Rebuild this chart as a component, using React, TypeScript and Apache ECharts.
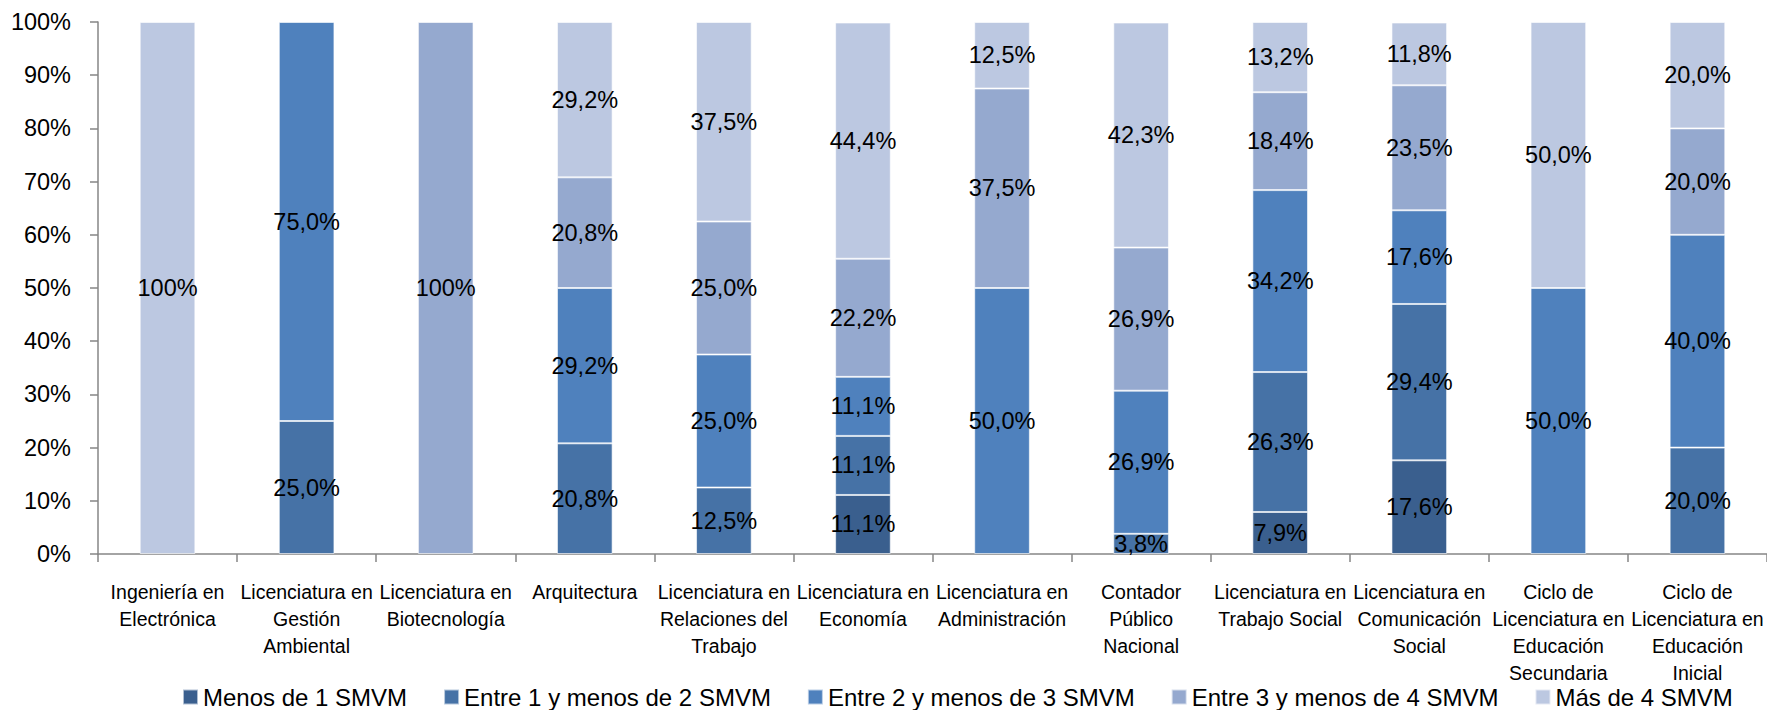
import React, { useEffect, useRef } from "react";
import * as echarts from "echarts";

const categories = [
  "Ingeniería en\nElectrónica",
  "Licenciatura en\nGestión\nAmbiental",
  "Licenciatura en\nBiotecnología",
  "Arquitectura",
  "Licenciatura en\nRelaciones del\nTrabajo",
  "Licenciatura en\nEconomía",
  "Licenciatura en\nAdministración",
  "Contador\nPúblico\nNacional",
  "Licenciatura en\nTrabajo Social",
  "Licenciatura en\nComunicación\nSocial",
  "Ciclo de\nLicenciatura en\nEducación\nSecundaria",
  "Ciclo de\nLicenciatura en\nEducación\nInicial",
];

const menos1 = [0, 0, 0, 0, 0, 11.1, 0, 0, 7.9, 17.6, 0, 0];
const entre12 = [0, 25, 0, 20.8, 12.5, 11.1, 0, 3.8, 26.3, 29.4, 0, 20];
const entre23 = [0, 75, 0, 29.2, 25, 11.1, 50, 26.9, 34.2, 17.6, 50, 40];
const entre34 = [0, 0, 100, 20.8, 25, 22.2, 37.5, 26.9, 18.4, 23.5, 0, 20];
const mas4 = [100, 0, 0, 29.2, 37.5, 44.4, 12.5, 42.3, 13.2, 11.8, 50, 20];

const seriesNames = [
  "Menos de 1 SMVM",
  "Entre 1 y menos de 2 SMVM",
  "Entre 2 y menos de 3 SMVM",
  "Entre 3 y menos de 4 SMVM",
  "Más de 4 SMVM",
];
const seriesValues = [menos1, entre12, entre23, entre34, mas4];
const colors = ["#3A5F8E", "#4672A6", "#4F81BD", "#95A9CF", "#BCC8E1"];

const FONT = "'Liberation Sans', Arial, sans-serif";

export default function App() {
  const ref = useRef<HTMLDivElement>(null);
  useEffect(() => {
    if (!ref.current) return;
    const chart = echarts.init(ref.current, null, { renderer: "svg" });
    const fmt = (p: any) => {
      const v = p.value as number;
      if (v === 100) return "100%";
      return v.toFixed(1).replace(".", ",") + "%";
    };
    chart.setOption({
      animation: false,
      color: colors,
      textStyle: { fontFamily: FONT },
      grid: { left: 98, right: 0, top: 22, bottom: 156, containLabel: false },
      legend: {
        left: 177,
        top: 680,
        itemWidth: 15,
        itemHeight: 15,
        itemGap: 36,
        icon: "rect",
        textStyle: { fontSize: 24, color: "#000", fontFamily: FONT },
        data: seriesNames,
      },
      xAxis: {
        type: "category",
        data: categories,
        axisLine: { lineStyle: { color: "#868686", width: 1.5 } },
        axisTick: { show: true, length: 8, lineStyle: { color: "#868686", width: 1.5 } },
        axisLabel: {
          interval: 0,
          color: "#000",
          fontSize: 19.5,
          lineHeight: 27,
          margin: 24,
          fontFamily: FONT,
        },
      },
      yAxis: {
        type: "value",
        min: 0,
        max: 100,
        interval: 10,
        splitLine: { show: false },
        axisLine: { show: true, lineStyle: { color: "#868686", width: 1.5 } },
        axisTick: { show: true, length: 8, lineStyle: { color: "#868686", width: 1.5 } },
        axisLabel: {
          formatter: "{value}%",
          color: "#000",
          fontSize: 23.5,
          margin: 27,
          fontFamily: FONT,
        },
      },
      series: seriesNames.map((name, i) => ({
        name,
        type: "bar",
        stack: "total",
        barWidth: "40%",
        itemStyle: { color: colors[i], borderColor: "rgba(255,255,255,0.6)", borderWidth: 1 },
        label: {
          show: true,
          position: "inside",
          color: "#000",
          fontSize: 23.5,
          fontFamily: FONT,
          formatter: fmt,
        },
        data: seriesValues[i].map((v) => (v === 0 ? null : v)),
      })),
    });
    return () => chart.dispose();
  }, []);
  return (
    <div
      ref={ref}
      style={{ position: "fixed", left: 0, top: 0, width: 1767, height: 710, background: "#fff" }}
    />
  );
}
